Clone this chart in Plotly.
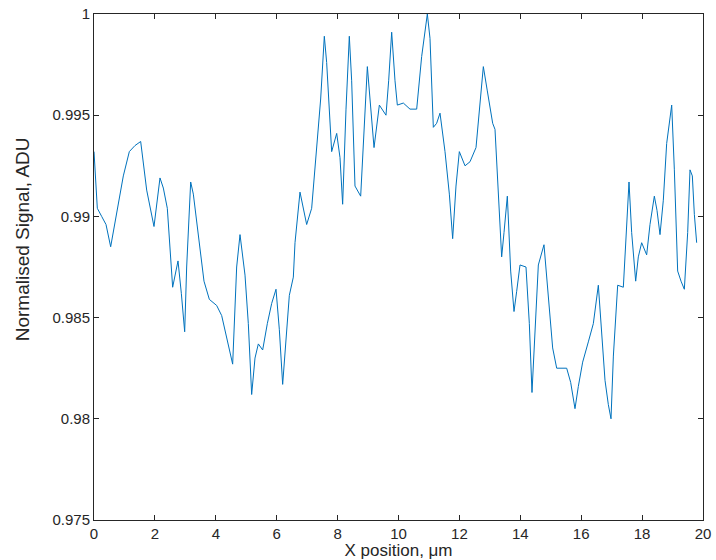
import plotly.graph_objects as go

x_position = [0.000, 0.109, 0.252, 0.394, 0.547, 0.744, 0.963, 1.160, 1.346, 1.533,
              1.730, 1.970, 2.167, 2.277, 2.408, 2.583, 2.759, 2.868, 2.978, 3.043,
              3.175, 3.262, 3.426, 3.612, 3.788, 4.028, 4.193, 4.379, 4.554, 4.685,
              4.795, 4.959, 5.068, 5.178, 5.287, 5.397, 5.539, 5.692, 5.835, 5.977,
              6.087, 6.196, 6.305, 6.415, 6.546, 6.601, 6.765, 6.984, 7.148, 7.313,
              7.444, 7.564, 7.641, 7.805, 7.970, 8.079, 8.166, 8.276, 8.385, 8.462,
              8.571, 8.758, 8.867, 8.977, 9.064, 9.196, 9.371, 9.589, 9.677, 9.776,
              9.885, 9.962, 10.159, 10.378, 10.597, 10.761, 10.947, 11.034, 11.144, 11.253,
              11.363, 11.527, 11.670, 11.779, 11.888, 11.998, 12.184, 12.348, 12.545, 12.677,
              12.786, 12.917, 13.093, 13.169, 13.246, 13.312, 13.388, 13.465, 13.574, 13.684,
              13.793, 13.881, 13.990, 14.187, 14.297, 14.384, 14.483, 14.592, 14.778, 14.921,
              15.063, 15.195, 15.523, 15.654, 15.796, 15.906, 16.048, 16.234, 16.398, 16.563,
              16.650, 16.782, 16.891, 16.979, 17.056, 17.198, 17.384, 17.493, 17.570, 17.657,
              17.789, 17.876, 17.986, 18.150, 18.259, 18.402, 18.489, 18.588, 18.697, 18.807,
              18.972, 19.059, 19.168, 19.278, 19.387, 19.497, 19.573, 19.650, 19.716, 19.792]

signal = [0.9932, 0.9904, 0.9900, 0.9896, 0.9885, 0.9902, 0.9920, 0.9932, 0.9935, 0.9937,
          0.9913, 0.9895, 0.9919, 0.9914, 0.9904, 0.9865, 0.9878, 0.9862, 0.9843, 0.9875,
          0.9917, 0.9911, 0.9892, 0.9868, 0.9859, 0.9856, 0.9851, 0.9838, 0.9827, 0.9875,
          0.9891, 0.9871, 0.9847, 0.9812, 0.9830, 0.9837, 0.9834, 0.9847, 0.9857, 0.9864,
          0.9844, 0.9817, 0.9840, 0.9861, 0.9870, 0.9887, 0.9912, 0.9896, 0.9904, 0.9936,
          0.9958, 0.9989, 0.9976, 0.9932, 0.9941, 0.9929, 0.9906, 0.9953, 0.9989, 0.9967,
          0.9915, 0.9910, 0.9941, 0.9974, 0.9958, 0.9934, 0.9955, 0.9950, 0.9967, 0.9991,
          0.9967, 0.9955, 0.9956, 0.9953, 0.9953, 0.9979, 1.0000, 0.9988, 0.9944, 0.9946,
          0.9951, 0.9932, 0.9911, 0.9889, 0.9915, 0.9932, 0.9925, 0.9927, 0.9934, 0.9958,
          0.9974, 0.9962, 0.9946, 0.9943, 0.9920, 0.9904, 0.9880, 0.9892, 0.9910, 0.9873,
          0.9853, 0.9863, 0.9876, 0.9875, 0.9847, 0.9813, 0.9844, 0.9876, 0.9886, 0.9861,
          0.9835, 0.9825, 0.9825, 0.9818, 0.9805, 0.9816, 0.9828, 0.9838, 0.9847, 0.9866,
          0.9847, 0.9819, 0.9807, 0.9800, 0.9831, 0.9866, 0.9865, 0.9894, 0.9917, 0.9892,
          0.9868, 0.9880, 0.9887, 0.9881, 0.9896, 0.9910, 0.9903, 0.9891, 0.9908, 0.9936,
          0.9955, 0.9923, 0.9873, 0.9868, 0.9864, 0.9892, 0.9923, 0.9920, 0.9901, 0.9887]

x_ticks = [0, 2, 4, 6, 8, 10, 12, 14, 16, 18, 20]
y_ticks = [0.975, 0.98, 0.985, 0.99, 0.995, 1.0]
y_tick_labels = ["0.975", "0.98", "0.985", "0.99", "0.995", "1"]

x_title = "X position, μm"
y_title = "Normalised Signal, ADU"

axis_color = "#262626"
font_family = "Liberation Sans, Arial, sans-serif"

fig = go.Figure()
fig.add_trace(go.Scatter(
    x=x_position, y=signal, mode="lines",
    line=dict(color="#0072BD", width=1),
    showlegend=False,
))

axis_common = dict(
    showline=True, linecolor=axis_color, linewidth=1,
    mirror="ticks", ticks="inside", ticklen=5, tickwidth=1, tickcolor=axis_color,
    showgrid=False, zeroline=False,
    ticklabeloverflow="allow",
    tickfont=dict(family=font_family, size=15, color=axis_color),
)

fig.update_layout(
    width=716, height=560,
    margin=dict(l=94, r=13, t=14, b=40),
    paper_bgcolor="white", plot_bgcolor="white",
    font=dict(family=font_family, color=axis_color),
    xaxis=dict(
        range=[0, 20], tickvals=x_ticks, ticktext=[str(t) for t in x_ticks],
        title=dict(text=x_title, font=dict(family=font_family, size=17, color=axis_color), standoff=1),
        automargin=False,
        **axis_common,
    ),
    yaxis=dict(
        range=[0.975, 1.0], tickvals=y_ticks, ticktext=y_tick_labels,
        automargin=False,
        **axis_common,
    ),
    annotations=[dict(
        text=y_title, xref="paper", yref="paper",
        x=-0.118, y=0.555, xanchor="center", yanchor="middle",
        textangle=-90, showarrow=False,
        font=dict(family=font_family, size=19, color=axis_color),
    )],
)

# remove the browser's default 8px body margin so the figure fills the window
fig.write_html(
    "out.html",
    config={"displayModeBar": False},
    post_script="document.body.style.margin='0px';",
)
